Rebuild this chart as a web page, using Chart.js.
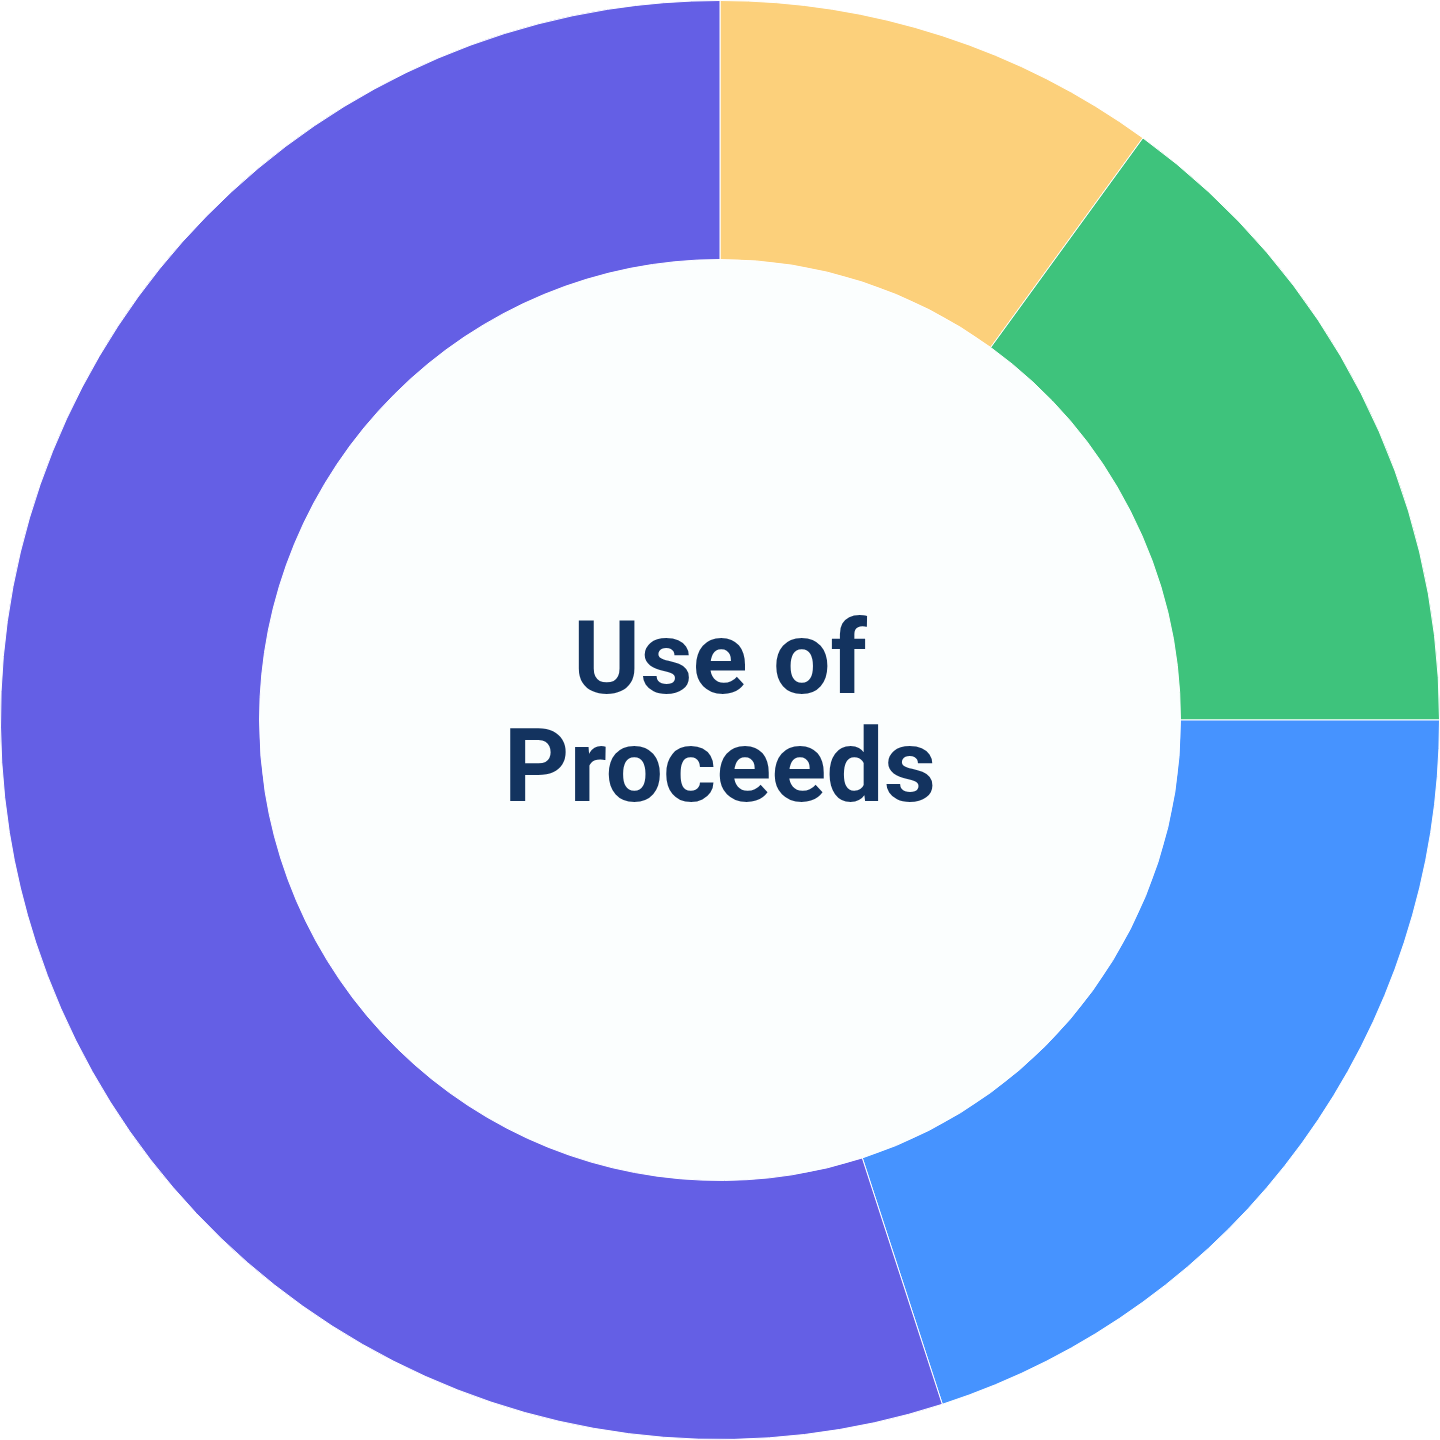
<!DOCTYPE html>
<html>
<head>
<meta charset="utf-8">
<script src="https://cdn.jsdelivr.net/npm/chart.js@4"></script>
<style>
html,body{margin:0;padding:0;background:#ffffff;}
#wrap{width:1440px;height:1440px;}
</style>
</head>
<body>
<div id="wrap"><canvas id="c" width="1440" height="1440"></canvas></div>
<script>
const categories = ["Segment A", "Segment B", "Segment C", "Segment D"];
const values = [10, 15, 20, 55];
const colors = ["#FCD07B", "#3EC37C", "#4693FF", "#645FE5"];
const centerLines = ["Use of", "Proceeds"];

const centerPlugin = {
  id: 'centerText',
  beforeDatasetsDraw(chart) {
    const meta = chart.getDatasetMeta(0);
    const arc = meta.data[0];
    if (!arc) return;
    const ctx = chart.ctx;
    ctx.save();
    ctx.beginPath();
    ctx.arc(arc.x, arc.y, arc.innerRadius, 0, Math.PI * 2);
    ctx.fillStyle = '#FBFEFE';
    ctx.fill();
    ctx.restore();
  },
  afterDatasetsDraw(chart) {
    const meta = chart.getDatasetMeta(0);
    const arc = meta.data[0];
    if (!arc) return;
    const ctx = chart.ctx;
    ctx.save();
    ctx.fillStyle = '#13335F';
    ctx.font = 'bold 102px Roboto, "Liberation Sans", Arial, sans-serif';
    ctx.textAlign = 'center';
    ctx.textBaseline = 'alphabetic';
    ctx.fillText(centerLines[0], arc.x, arc.y - 27);
    ctx.fillText(centerLines[1], arc.x, arc.y + 81);
    ctx.restore();
  }
};

new Chart(document.getElementById('c'), {
  type: 'doughnut',
  data: {
    labels: categories,
    datasets: [{
      data: values,
      backgroundColor: colors,
      borderColor: '#ffffff',
      borderWidth: 1,
      hoverOffset: 0
    }]
  },
  options: {
    responsive: false,
    animation: false,
    cutout: '64%',
    layout: { padding: 0 },
    plugins: { legend: { display: false }, tooltip: { enabled: false } }
  },
  plugins: [centerPlugin]
});
</script>
</body>
</html>
